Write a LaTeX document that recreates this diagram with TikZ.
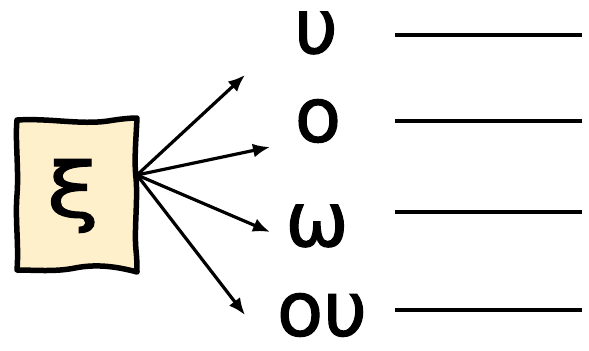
\documentclass[tikz,border=0pt]{standalone}
\usepackage{fontspec}
\setmainfont{DejaVu Sans}
\newfontfamily\lettfont[FakeBold=1.5]{DejaVu Sans}
\usetikzlibrary{arrows.meta}
\definecolor{boxfill}{RGB}{255,240,204}
\tikzset{
  letter/.style={inner sep=0pt, font=\lettfont\fontsize{76}{80}\selectfont},
  arr/.style={line width=3.2bp, -{Latex[length=17bp,width=14bp]}},
  blank/.style={line width=3.2bp},
  wavybox/.style={line width=5.5bp, fill=boxfill, line join=round}
}
\begin{document}
\begin{tikzpicture}[x=1bp,y=-1bp]
\useasboundingbox (0,0) rectangle (589,350);
% wavy box outline
\draw[wavybox] (17,120) .. controls (50,118) and (80,125) .. (108,121) .. controls (120,119) and (130,118) .. (137,118)
  .. controls (136,140) and (134,160) .. (136,178) .. controls (138,200) and (134,230) .. (136,250) .. controls (137,260) and (137,266) .. (137,272)
  .. controls (115,266) and (95,264) .. (75,268) .. controls (55,272) and (35,270) .. (17,270)
  .. controls (19,245) and (15,220) .. (17,195) .. controls (19,170) and (15,140) .. (17,120) -- cycle;
\node[letter, xscale=1.25] (xi) at (73,196) {ξ};
\coordinate (src) at (137,175);
% letters
\node[letter] (u) at (316,33) {υ};
\node[letter] (o) at (318,121) {ο};
\node[letter] (w) at (317,226) {ω};
\node[letter] (ou) at (322,315) {ου};
% arrow ends
\coordinate (t1) at (245,75);
\coordinate (t2) at (270,147);
\coordinate (t3) at (270,232);
\coordinate (t4) at (245,315);
\foreach \t in {t1,t2,t3,t4} \draw[arr] (src) -- (\t);
% blanks
\coordinate (b1a) at (395,35);  \coordinate (b1b) at (582,35);
\coordinate (b2a) at (395,121); \coordinate (b2b) at (582,121);
\coordinate (b3a) at (395,212); \coordinate (b3b) at (582,212);
\coordinate (b4a) at (395,310); \coordinate (b4b) at (582,310);
\draw[blank] (b1a) -- (b1b);
\draw[blank] (b2a) -- (b2b);
\draw[blank] (b3a) -- (b3b);
\draw[blank] (b4a) -- (b4b);
\end{tikzpicture}
\end{document}
